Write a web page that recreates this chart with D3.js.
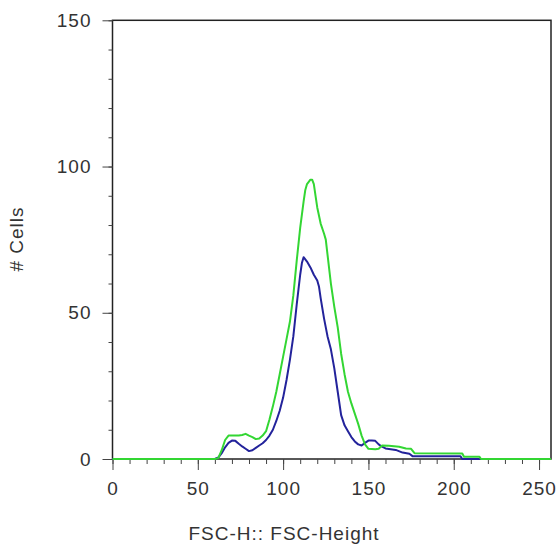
<!DOCTYPE html>
<html>
<head>
<meta charset="utf-8">
<script src="https://cdn.jsdelivr.net/npm/d3@7"></script>
<style>
  html, body { margin: 0; padding: 0; background: #fff; }
  svg { display: block; }
  text { font-family: "Liberation Sans", Arial, sans-serif; fill: #333; }
</style>
</head>
<body>
<svg id="chart" width="557" height="549"></svg>
<script>
// ---- data ----
const xTickValues = [0, 50, 100, 150, 200, 250];
const yTickValues = [0, 50, 100, 150];
const xLabel = "FSC-H:: FSC-Height";
const yLabel = "# Cells";

const greenX = [0, 60, 62, 64, 66, 68, 70, 72, 74, 76, 78, 80, 82, 84, 86, 88, 90, 92, 94, 96, 98, 100, 102, 104, 106, 108, 110, 112, 113, 114, 116, 117, 118, 119, 120, 122, 124, 125, 126, 128, 130, 132, 134, 136, 138, 140, 142, 144, 146, 148, 150, 154, 156, 158, 162, 168, 172, 175, 177, 205, 206, 215, 216, 257];
const greenY = [0, 0, 0.3, 3, 6.5, 8, 8, 8, 8, 8.2, 8.6, 8, 7.5, 6.8, 7, 8, 9.5, 13.5, 18, 23, 29, 35, 41, 47, 56, 68, 79, 88, 92, 94, 95.5, 95.5, 94, 90, 86, 80.5, 77, 75, 70, 60, 52, 45, 36, 29, 23, 19, 15.5, 12, 8, 5, 3.5, 3.3, 3.5, 4.6, 4.5, 4.2, 3.6, 3.5, 2.0, 1.9, 0.8, 0.8, 0, 0];

const blueX = [0, 60, 62, 64, 66, 68, 70, 72, 74, 76, 78, 80, 82, 84, 86, 88, 90, 92, 94, 96, 98, 100, 102, 104, 106, 108, 109, 110, 111, 112, 114, 116, 118, 120, 121, 122, 124, 126, 128, 130, 132, 134, 136, 138, 140, 142, 144, 146, 148, 150, 152, 154, 156, 158, 160, 166, 170, 174, 176, 204, 205, 257];
const blueY = [0, 0, 0.5, 2, 4, 5.5, 6.3, 6.2, 5.2, 4.3, 3.5, 2.7, 3, 3.8, 4.6, 5.4, 6.5, 8, 10, 13, 16.5, 21, 27, 34, 42, 53, 58, 63, 67, 69, 67.5, 65.5, 63, 61, 59, 55, 48, 42, 37.5, 31, 23, 15, 11.5, 9.5, 7.5, 6, 5, 4.6, 5.5, 6.3, 6.3, 6.2, 5, 4.2, 3.6, 3.1, 2.2, 1.8, 0.9, 0.9, 0, 0];

const xMinorTicks = d3.range(0, 257, 10);
const yMinorTicks = d3.range(0, 151, 10);

// ---- layout ----
const svg = d3.select("#chart");
const plotLeft = 112.5, plotRight = 551, plotTop = 20.3, plotBottom = 459;
const x = d3.scaleLinear().domain([0, 257]).range([plotLeft, plotRight]);
const y = d3.scaleLinear().domain([0, 150]).range([plotBottom, plotTop]);

// frame
svg.append("rect")
  .attr("x", plotLeft).attr("y", plotTop)
  .attr("width", plotRight - plotLeft).attr("height", plotBottom - plotTop)
  .attr("fill", "none").attr("stroke", "#222").attr("stroke-width", 1.5);

// minor ticks
const minorX = svg.append("g").attr("transform", `translate(0,${plotBottom})`)
  .call(d3.axisBottom(x).tickValues(xMinorTicks).tickSize(5).tickFormat(""));
minorX.select(".domain").remove();
minorX.selectAll("line").attr("stroke", "#444");

const minorY = svg.append("g").attr("transform", `translate(${plotLeft},0)`)
  .call(d3.axisLeft(y).tickValues(yMinorTicks).tickSize(4).tickFormat(""));
minorY.select(".domain").remove();
minorY.selectAll("line").attr("stroke", "#444");

// major ticks + labels
const xAxis = svg.append("g").attr("transform", `translate(0,${plotBottom})`)
  .call(d3.axisBottom(x).tickValues(xTickValues).tickSize(11).tickPadding(12));
xAxis.select(".domain").remove();
xAxis.selectAll("line").attr("stroke", "#444");
xAxis.selectAll("text")
  .style("font-family", '"Liberation Sans", Arial, sans-serif')
  .style("font-size", "19px").style("letter-spacing", "1px").attr("fill", "#333");

const yAxis = svg.append("g").attr("transform", `translate(${plotLeft},0)`)
  .call(d3.axisLeft(y).tickValues(yTickValues).tickSize(10).tickPadding(11));
yAxis.select(".domain").remove();
yAxis.selectAll("line").attr("stroke", "#444");
yAxis.selectAll("text")
  .style("font-family", '"Liberation Sans", Arial, sans-serif')
  .style("font-size", "19px").style("letter-spacing", "1px").attr("fill", "#333");

// axis titles
svg.append("text")
  .attr("x", 284).attr("y", 540)
  .attr("text-anchor", "middle")
  .style("font-size", "19px").style("letter-spacing", "1px")
  .text(xLabel);

svg.append("text")
  .attr("transform", "translate(23,239) rotate(-90)")
  .attr("text-anchor", "middle")
  .style("font-size", "19px").style("letter-spacing", "1px")
  .text(yLabel);

// curves
const line = d3.line().x(d => x(d[0])).y(d => y(d[1]));
const greenData = greenX.map((v, i) => [v, greenY[i]]);
const blueData = blueX.map((v, i) => [v, blueY[i]]);

svg.append("path").datum(blueData)
  .attr("d", line).attr("fill", "none")
  .attr("stroke", "#23239b").attr("stroke-width", 2).attr("stroke-linejoin", "round");
svg.append("path").datum(greenData)
  .attr("d", line).attr("fill", "none")
  .attr("stroke", "#33d633").attr("stroke-width", 2).attr("stroke-linejoin", "round");
</script>
</body>
</html>
